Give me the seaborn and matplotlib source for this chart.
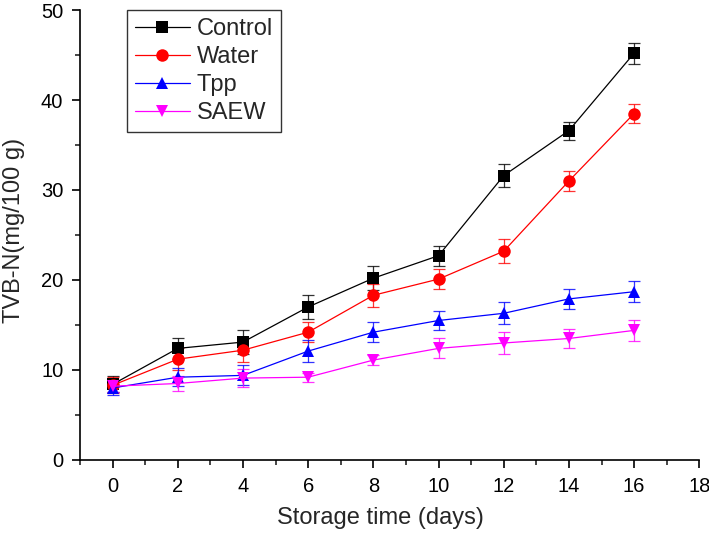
import numpy as np
import pandas as pd
import matplotlib
matplotlib.use("Agg")
import matplotlib.pyplot as plt
import seaborn as sns
from matplotlib.ticker import MultipleLocator

days = [0, 2, 4, 6, 8, 10, 12, 14, 16]
control = [8.4, 12.4, 13.1, 17.0, 20.2, 22.7, 31.6, 36.6, 45.2]
water = [8.3, 11.2, 12.2, 14.2, 18.3, 20.1, 23.2, 31.0, 38.5]
tpp = [8.0, 9.2, 9.4, 12.1, 14.2, 15.5, 16.3, 17.9, 18.7]
saew = [8.2, 8.5, 9.1, 9.2, 11.1, 12.4, 13.0, 13.5, 14.4]
control_err = [0.9, 1.2, 1.3, 1.3, 1.3, 1.1, 1.3, 1.0, 1.15]
water_err = [0.9, 1.2, 1.3, 1.1, 1.3, 1.1, 1.3, 1.1, 1.1]
tpp_err = [0.8, 1.0, 1.1, 1.2, 1.1, 1.1, 1.2, 1.1, 1.2]
saew_err = [0.7, 0.8, 1.0, 0.5, 0.6, 1.1, 1.2, 1.1, 1.2]

names = ["Control", "Water", "Tpp", "SAEW"]
series = [control, water, tpp, saew]
errs = [control_err, water_err, tpp_err, saew_err]
colors = ["black", "#ff0000", "#0000ff", "#ff00ff"]
markers = ["s", "o", "^", "v"]

sns.set_style("ticks")
plt.rcParams['font.family'] = ['Liberation Sans', 'DejaVu Sans']

df = pd.concat([pd.DataFrame({"day": days, "value": v, "group": n})
                for n, v in zip(names, series)], ignore_index=True)

fig = plt.figure(figsize=(7.09, 5.35), dpi=100)
ax = fig.add_axes([0.1128, 0.1402, 0.8735, 0.8411])

for n, v, e, c in zip(names, series, errs, colors):
    ax.errorbar(days, v, yerr=e, fmt="none", ecolor=c, elinewidth=0.9,
                capsize=4.5, capthick=0.9, alpha=0.8, zorder=2)

sns.lineplot(data=df, x="day", y="value", hue="group", style="group",
             hue_order=names, style_order=names,
             palette=dict(zip(names, colors)),
             markers=dict(zip(names, markers)),
             dashes=False, markersize=9, markeredgewidth=0,
             linewidth=0.9, ax=ax, zorder=3)

ax.set_xlim(-1, 18)
ax.set_ylim(0, 50)
ax.xaxis.set_major_locator(MultipleLocator(2))
ax.xaxis.set_minor_locator(MultipleLocator(1))
ax.yaxis.set_major_locator(MultipleLocator(10))
ax.yaxis.set_minor_locator(MultipleLocator(5))
ax.tick_params(axis="both", which="major", direction="out", length=6, width=1.2,
               labelsize=14.5, colors="black", pad=6)
ax.tick_params(axis="both", which="minor", direction="out", length=3.5, width=1.2)
for s in ["top", "right"]:
    ax.spines[s].set_visible(False)
for s in ["left", "bottom"]:
    ax.spines[s].set_linewidth(1.2)
    ax.spines[s].set_color("black")

ax.set_xlabel("Storage time (days)", fontsize=17)
ax.set_ylabel("TVB-N(mg/100 g)", fontsize=17)
ax.xaxis.set_label_coords(0.485, -0.105)
ax.yaxis.set_label_coords(-0.088, 0.51)

handles, labels = ax.get_legend_handles_labels()
leg = ax.legend(handles, labels, loc="upper left", bbox_to_anchor=(0.076, 1.0),
                borderaxespad=0, fontsize=17, frameon=True, fancybox=False,
                edgecolor="black", handlelength=2.3, handletextpad=0.3,
                labelspacing=0.25, borderpad=0.35)
leg.get_frame().set_linewidth(1.0)

fig.savefig("out.png", dpi=100)
